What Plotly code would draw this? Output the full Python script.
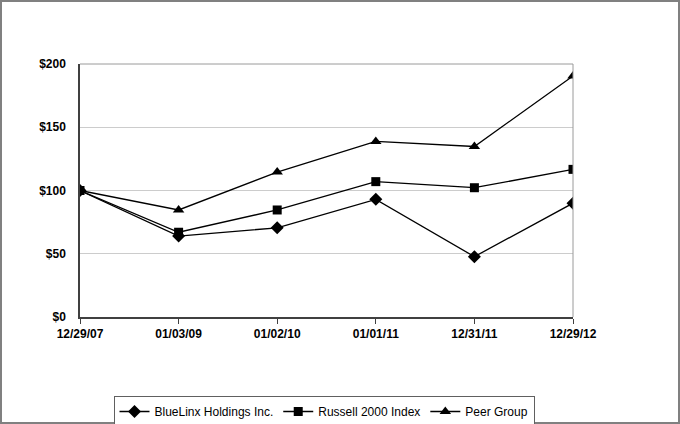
import plotly.graph_objects as go

dates = ["12/29/07", "01/03/09", "01/02/10", "01/01/11", "12/31/11", "12/29/12"]
bluelinx = [100, 64, 70.5, 93, 47.7, 90]
russell = [100, 67, 84.6, 107, 102.2, 116.7]
peer = [100, 84.6, 114.6, 138.8, 134.8, 190.5]
y_ticks = [0, 50, 100, 150, 200]
y_labels = ["$0", "$50", "$100", "$150", "$200"]

W, H = 680, 424
L, R, T, B = 80, 573, 64, 317
pw, ph = R - L, B - T

xs = list(range(len(dates)))
fig = go.Figure()
series = [
    ("BlueLinx Holdings Inc.", bluelinx, "diamond", 10),
    ("Russell 2000 Index", russell, "square", 9),
    ("Peer Group", peer, "triangle-up", 10),
]
for name, vals, sym, sz in series:
    fig.add_trace(go.Scatter(
        x=xs, y=vals, name=name, mode="lines+markers",
        line=dict(color="black", width=1.3),
        marker=dict(symbol=sym, size=sz, color="black"),
    ))

def px(x):
    return (x - L) / pw

def py(y):
    return (B - y) / ph

shapes = [
    dict(type="line", xref="paper", yref="paper", x0=0, x1=1, y0=1, y1=1,
         line=dict(color="#9a9a9a", width=1)),
    dict(type="line", xref="paper", yref="paper", x0=1, x1=1, y0=0, y1=1,
         line=dict(color="#9a9a9a", width=1)),
    dict(type="rect", xref="paper", yref="paper", x0=px(1), x1=px(679), y0=py(423), y1=py(1),
         line=dict(color="#808080", width=2)),
]

tick_font = dict(family="Liberation Sans, Arial, sans-serif", size=12, color="black", weight="bold")

fig.update_layout(
    width=W, height=H, autosize=False,
    margin=dict(l=L, r=W - R, t=T, b=H - B, autoexpand=False),
    paper_bgcolor="white", plot_bgcolor="white",
    font=dict(family="Liberation Sans, Arial, sans-serif", color="black", size=11),
    showlegend=True,
    legend=dict(
        orientation="h", xref="container", yref="container",
        x=324 / W, xanchor="center", y=1 - 396 / H, yanchor="top",
        bordercolor="#606060", borderwidth=1, font=dict(size=12),
        itemwidth=30, tracegroupgap=0,
    ),
    shapes=shapes,
    xaxis=dict(
        range=[0, len(dates) - 1], tickvals=xs, ticktext=dates,
        showgrid=False, zeroline=False, showline=True, linecolor="#404040", linewidth=1.5,
        ticks="outside", ticklen=5, tickcolor="#404040",
        tickfont=tick_font,
    ),
    yaxis=dict(
        range=[0, 200], tickvals=y_ticks, ticktext=y_labels,
        showgrid=True, gridcolor="#cccccc", gridwidth=1, zeroline=False,
        showline=True, linecolor="#404040", linewidth=1.5,
        ticks="", ticklabelstandoff=10,
        tickfont=tick_font,
    ),
)

fig.write_html(
    "out.html",
    config={"displayModeBar": False},
    post_script="document.body.style.margin='0';document.body.style.overflow='hidden';",
)
